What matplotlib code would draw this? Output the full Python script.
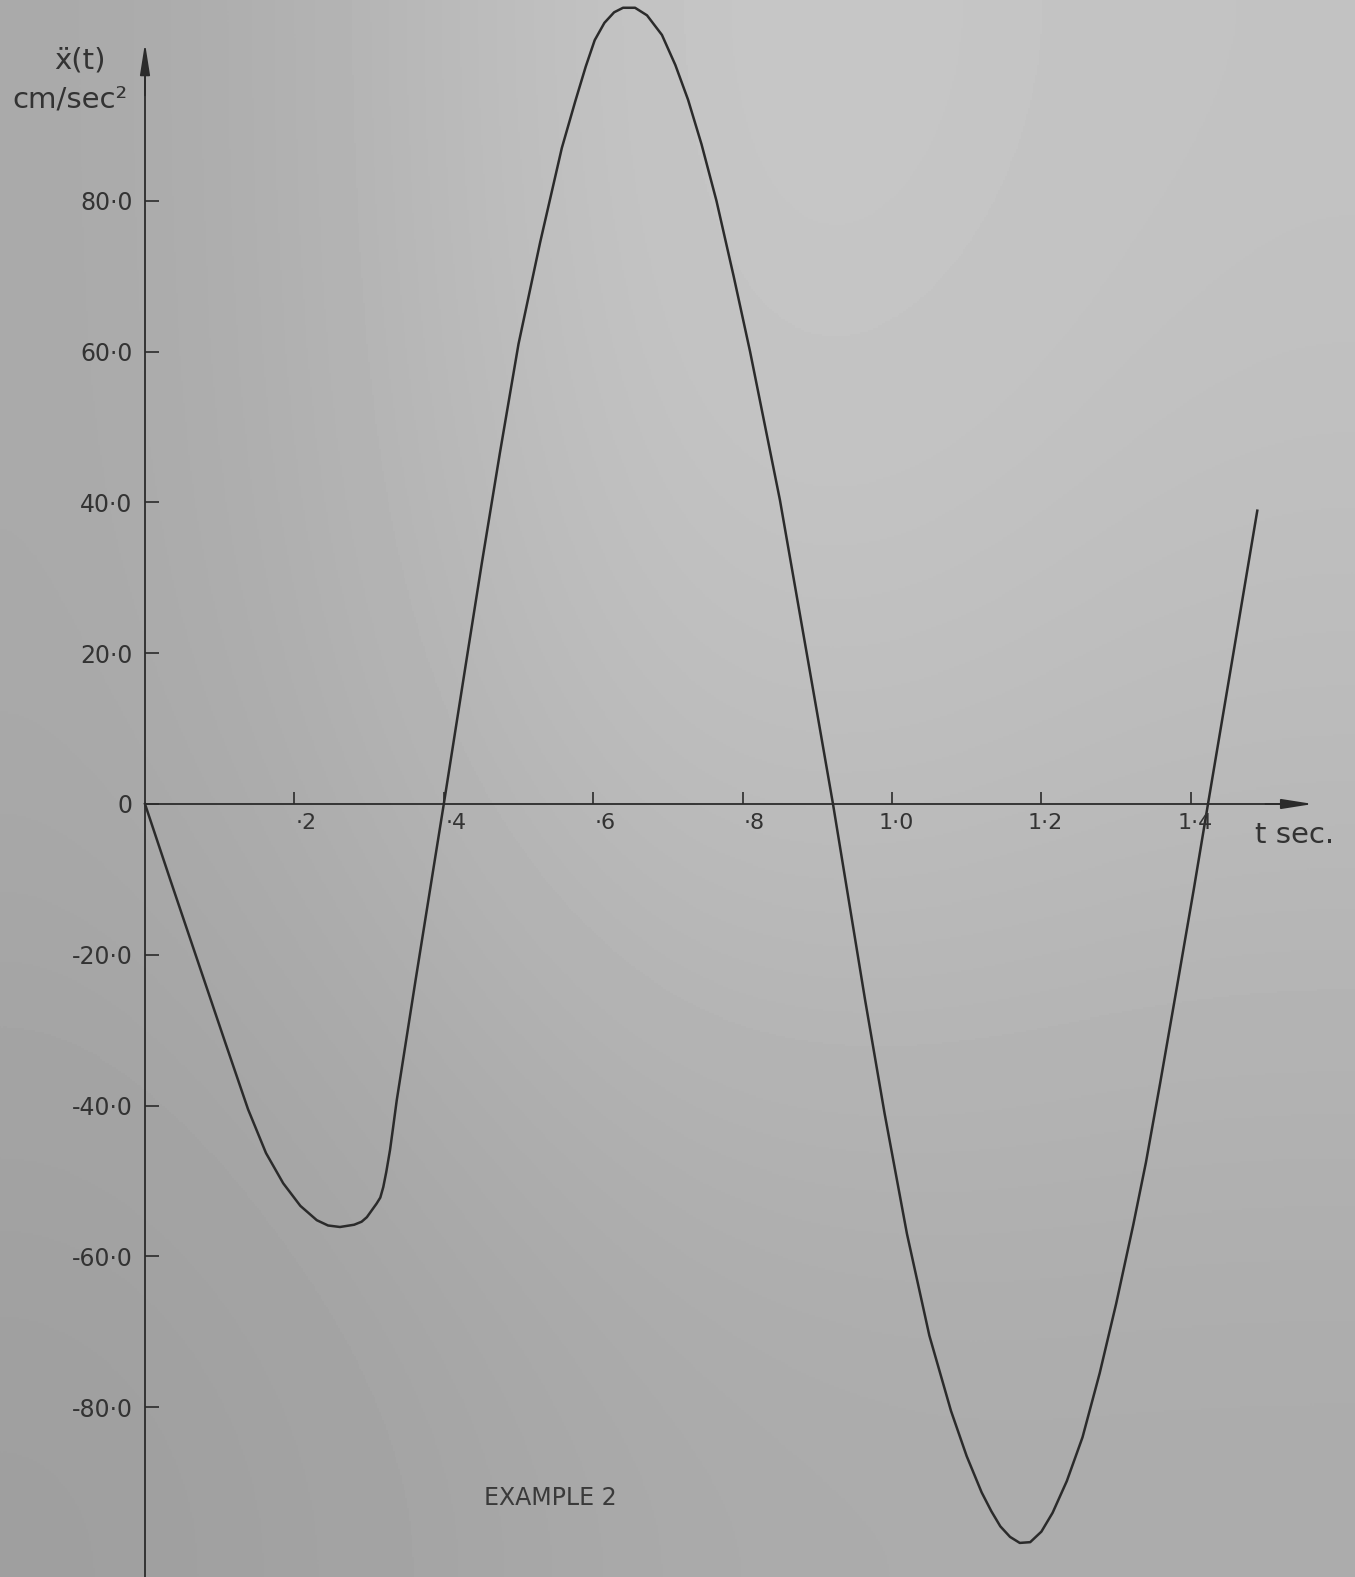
import numpy as np
import matplotlib.pyplot as plt

# acceleration record (t in sec, x'' in cm/sec^2)
t = [0.000, 0.034, 0.079, 0.108, 0.138, 0.162, 0.185, 0.208, 0.230, 0.245,
     0.261, 0.280, 0.290, 0.297, 0.310, 0.315, 0.319, 0.323, 0.328, 0.332,
     0.337, 0.362, 0.388, 0.400, 0.431, 0.451, 0.475, 0.500, 0.529, 0.558,
     0.576, 0.590, 0.602, 0.615, 0.628, 0.640, 0.656, 0.672, 0.692, 0.710,
     0.727, 0.745, 0.765, 0.788, 0.810, 0.850, 0.889, 0.921, 0.964, 0.990,
     1.020, 1.050, 1.079, 1.100, 1.120, 1.133, 1.145, 1.158, 1.171, 1.185,
     1.200, 1.215, 1.234, 1.255, 1.278, 1.300, 1.323, 1.340, 1.359, 1.381,
     1.404, 1.423, 1.457, 1.489]
accel = [0.0, -10.1, -23.3, -31.8, -40.5, -46.3, -50.3, -53.3, -55.2, -55.9,
         -56.1, -55.8, -55.4, -54.8, -53.0, -52.2, -50.8, -48.8, -45.9, -43.0,
         -39.3, -23.5, -7.4, 0.0, 19.5, 32.0, 46.5, 61.0, 74.5, 87.0,
         93.2, 97.8, 101.3, 103.6, 105.0, 105.6, 105.6, 104.6, 102.0, 98.0,
         93.4, 87.5, 80.0, 70.0, 60.0, 40.3, 18.2, 0.0, -26.0, -41.0,
         -57.0, -70.5, -80.5, -86.5, -91.3, -93.8, -95.8, -97.2, -98.0, -97.9,
         -96.5, -94.0, -89.8, -84.0, -75.5, -66.3, -55.8, -47.5, -37.0, -24.5,
         -11.3, 0.0, 20.0, 38.9]

x_ticks = [0.2, 0.4, 0.6, 0.8, 1.0, 1.2, 1.4]
x_tick_labels = ["·2", "·4", "·6", "·8", "1·0", "1·2", "1·4"]
y_ticks = [80, 60, 40, 20, 0, -20, -40, -60, -80]
y_tick_labels = ["80·0", "60·0", "40·0", "20·0", "0",
                 "-20·0", "-40·0", "-60·0", "-80·0"]

W, H = 1355, 1577
ink = '#2b2b2b'
xlim = (-0.1941, 1.6198)
ylim = (-102.52, 106.63)

fig = plt.figure(figsize=(W / 100, H / 100), dpi=100)
ax = fig.add_axes([0, 0, 1, 1])

# grey paper background, lighter in the upper middle
bg = np.array([[0.66, 0.80, 0.76],
               [0.66, 0.76, 0.73],
               [0.62, 0.67, 0.67]])
ax.imshow(bg, cmap='gray', vmin=0, vmax=1, extent=[*xlim, *ylim],
          aspect='auto', interpolation='bicubic', zorder=0)
ax.set_xlim(*xlim)
ax.set_ylim(*ylim)

ax.plot(t, accel, color=ink, lw=1.8, zorder=3, solid_joinstyle='round')

# axes through the origin
for s in ['top', 'right']:
    ax.spines[s].set_visible(False)
ax.spines['left'].set_position(('data', 0))
ax.spines['bottom'].set_position(('data', 0))
ax.spines['left'].set_bounds(ylim[0], 98)
ax.spines['bottom'].set_bounds(0, 1.53)
for s in ['left', 'bottom']:
    ax.spines[s].set_color(ink)
    ax.spines[s].set_linewidth(1.3)

ax.set_yticks(y_ticks, labels=y_tick_labels)
ax.tick_params(axis='y', direction='in', length=10, width=1.2, color=ink,
               pad=9, labelsize=17, labelcolor='#333333')
ax.set_xticks(x_ticks, labels=[])
ax.tick_params(axis='x', direction='in', length=9, width=1.2, color=ink)

for xt, lab in zip(x_ticks, x_tick_labels):
    if lab.startswith('·'):
        ax.annotate(lab, (xt, 0), xytext=(1, -14), textcoords='offset points',
                    ha='left', va='center', fontsize=16, color='#333333')
    else:
        ax.annotate(lab, (xt, 0), xytext=(3, -14), textcoords='offset points',
                    ha='center', va='center', fontsize=16, color='#333333')

# arrow heads
head = dict(arrowstyle='-|>,head_length=1.9,head_width=0.3', color=ink,
            lw=1.3, shrinkA=0, shrinkB=0)
ax.annotate('', xy=(1.5636, 0), xytext=(1.50, 0), arrowprops=head)
ax.annotate('', xy=(0, 100.9), xytext=(0, 94), arrowprops=head)

fig.text(80 / W, 1 - 60 / H, "ẍ(t)", ha='center', va='center',
         fontsize=21, color='#333333')
fig.text(12 / W, 1 - 100 / H, "cm/sec²", ha='left', va='center',
         fontsize=21, color='#333333')
fig.text(1295 / W, 1 - 835 / H, "t sec.", ha='center', va='center',
         fontsize=21, color='#333333')
fig.text(550 / W, 1 - 1498 / H, "EXAMPLE 2", ha='center', va='center',
         fontsize=17, color='#3a3a3a')

fig.savefig('out.png', dpi=100)
